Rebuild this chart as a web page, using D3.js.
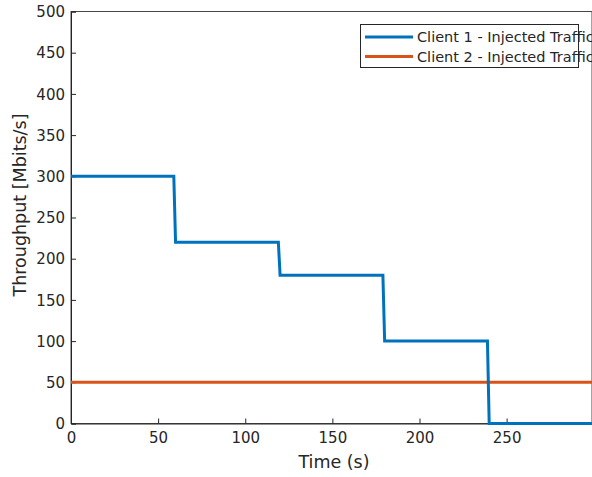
<!DOCTYPE html>
<html><head><meta charset="utf-8">
<script src="https://cdn.jsdelivr.net/npm/d3@7"></script>
<style>body{margin:0;background:#fff;} text{font-family:"DejaVu Sans",sans-serif;fill:#262626;}</style>
</head><body>
<svg id="c" width="592" height="477"></svg>
<script>
const client1Time = [0, 59, 60, 119, 120, 179, 180, 239, 240, 299];
const client1Values = [300, 300, 220, 220, 180, 180, 100, 100, 0, 0];
const client2Time = [0, 299];
const client2Values = [50, 50];
const xTicks = [0, 50, 100, 150, 200, 250];
const yTicks = [0, 50, 100, 150, 200, 250, 300, 350, 400, 450, 500];
const seriesNames = ["Client 1 - Injected Traffic", "Client 2 - Injected Traffic"];
const colors = ["#0072BD", "#D95319"];

const svg = d3.select("#c");
const L = 71, R = 592, T = 11.5, B = 423.5;
const x = d3.scaleLinear().domain([0, 299]).range([L, R]);
const y = d3.scaleLinear().domain([0, 500]).range([B, T]);

// box
svg.append("rect").attr("x", L).attr("y", T).attr("width", R - L).attr("height", B - T)
  .attr("fill", "#fff").attr("stroke", "#262626").attr("stroke-width", 1).attr("stroke-opacity", 0.85);

const gx = svg.append("g").attr("transform", `translate(0,${B})`)
  .call(d3.axisBottom(x).tickValues(xTicks).tickSize(-5).tickPadding(9).tickFormat(d3.format("d")));
const gy = svg.append("g").attr("transform", `translate(${L},0)`)
  .call(d3.axisLeft(y).tickValues(yTicks).tickSize(-5).tickPadding(6).tickFormat(d3.format("d")));
[gx, gy].forEach(g => {
  g.select(".domain").attr("stroke", "#262626");
  g.selectAll(".tick line").attr("stroke", "#262626");
  g.selectAll(".tick text").style("font-size", "15px").style("font-family", "DejaVu Sans").attr("fill", "#262626");
});
gx.selectAll(".tick text").attr("dy", "0.71em");
gy.selectAll(".tick text").attr("dy", "0.35em");

const line = d3.line().x(d => x(d[0])).y(d => y(d[1]));
svg.append("path").datum(client2Time.map((t, i) => [t, client2Values[i]]))
  .attr("d", line).attr("fill", "none").attr("stroke", colors[1]).attr("stroke-width", 3);
svg.append("path").datum(client1Time.map((t, i) => [t, client1Values[i]]))
  .attr("d", line).attr("fill", "none").attr("stroke", colors[0]).attr("stroke-width", 3);

// labels
svg.append("text").attr("x", 334).attr("y", 468).attr("text-anchor", "middle")
  .style("font-size", "17.5px").text("Time (s)");
svg.append("text").attr("transform", "translate(26,205) rotate(-90)").attr("text-anchor", "middle")
  .style("font-size", "17.5px").text("Throughput [Mbits/s]");

// legend
const lg = svg.append("g");
lg.append("rect").attr("x", 360.5).attr("y", 24.5).attr("width", 218).attr("height", 43)
  .attr("fill", "#fff").attr("stroke", "#262626").attr("stroke-width", 1);
seriesNames.forEach((n, i) => {
  const yy = 37 + i * 19.5;
  lg.append("line").attr("x1", 365).attr("x2", 413).attr("y1", yy).attr("y2", yy)
    .attr("stroke", colors[i]).attr("stroke-width", 3);
  lg.append("text").attr("x", 417).attr("y", yy).attr("dy", "0.35em")
    .style("font-size", "14.5px").text(n);
});
</script>
</body></html>
